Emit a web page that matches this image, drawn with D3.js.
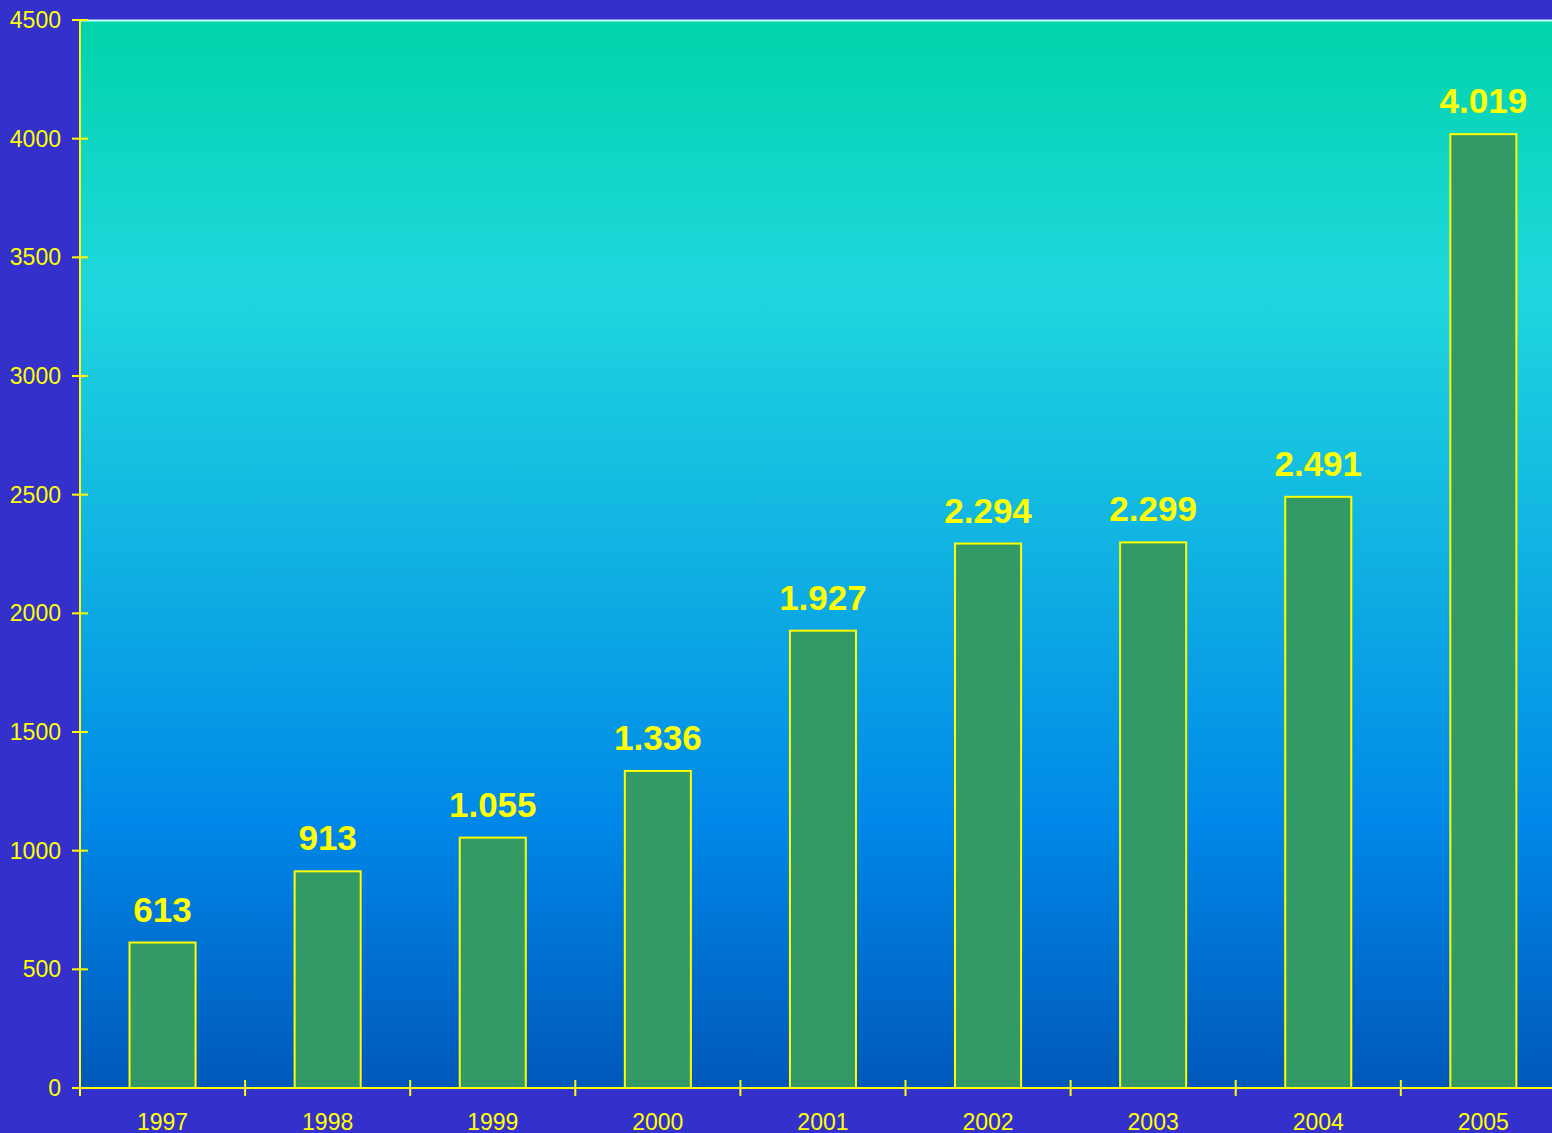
<!DOCTYPE html>
<html><head><meta charset="utf-8">
<script src="https://cdn.jsdelivr.net/npm/d3@7"></script>
<style>html,body{margin:0;padding:0;background:#3330cc;overflow:hidden}svg{display:block}</style>
</head><body>
<script>
const years = ["1997","1998","1999","2000","2001","2002","2003","2004","2005"];
const values = [613, 913, 1055, 1336, 1927, 2294, 2299, 2491, 4019];
const yTicks = [0,500,1000,1500,2000,2500,3000,3500,4000,4500];

const W = 1552, H = 1133;
const m = {left: 80, top: 20, bottom: 45};
const plotW = 165.1 * years.length;
const svg = d3.select("body").append("svg").attr("width", W).attr("height", H);

const x = d3.scaleBand().domain(years).range([m.left, m.left + plotW]).paddingInner(0.6).paddingOuter(0.3);
const xb = d3.scaleBand().domain(years).range([m.left, m.left + plotW]);
const y = d3.scaleLinear().domain([0, 4500]).range([H - m.bottom, m.top]);

const defs = svg.append("defs");
const g = defs.append("linearGradient").attr("id","bg").attr("x1",0).attr("y1",0).attr("x2",0).attr("y2",1);
[[0,"#00d4aa"],[0.25,"#1fd7de"],[0.5,"#10b2e2"],[0.75,"#0088e8"],[1,"#0058ba"]].forEach(([o,c]) =>
  g.append("stop").attr("offset", o).attr("stop-color", c));

svg.append("rect").attr("x", m.left).attr("y", y(4500)).attr("width", W - m.left).attr("height", y(0) - y(4500)).attr("fill","url(#bg)");
svg.append("line").attr("x1", m.left).attr("x2", W).attr("y1", y(4500)+0.5).attr("y2", y(4500)+0.5).attr("stroke","#c8fff8").attr("stroke-width",2);

const fmt = v => d3.format(",")(v).replace(/,/g, ".");

svg.selectAll("rect.bar").data(values).join("rect").attr("class","bar")
  .attr("x", (d,i) => x(years[i])).attr("width", x.bandwidth())
  .attr("y", d => y(d)).attr("height", d => y(0) - y(d))
  .attr("fill","#339966").attr("stroke","#ffff00").attr("stroke-width",2);

svg.selectAll("text.val").data(values).join("text").attr("class","val")
  .attr("x", (d,i) => x(years[i]) + x.bandwidth()/2).attr("y", d => y(d) - 21)
  .attr("text-anchor","middle").attr("fill","#ffff00")
  .style("font", "bold 35px 'Liberation Sans', Arial, sans-serif").text(fmt);

// y axis
const ya = svg.append("g");
ya.append("line").attr("x1", m.left).attr("x2", m.left).attr("y1", y(4500)).attr("y2", y(0)+8).attr("stroke","#ffff00").attr("stroke-width",2);
yTicks.forEach(t => {
  ya.append("line").attr("x1", m.left-8).attr("x2", m.left+8).attr("y1", y(t)).attr("y2", y(t)).attr("stroke","#ffff00").attr("stroke-width",2);
  ya.append("text").attr("x", 61).attr("y", y(t)+8).attr("text-anchor","end").attr("fill","#ffff00")
    .style("font","23px 'Liberation Sans', Arial, sans-serif").text(t);
});

// x axis
const xa = svg.append("g");
xa.append("line").attr("x1", m.left).attr("x2", W).attr("y1", y(0)).attr("y2", y(0)).attr("stroke","#ffff00").attr("stroke-width",2);
years.forEach((yr,i) => {
  if (i > 0) xa.append("line").attr("x1", xb(yr)).attr("x2", xb(yr)).attr("y1", y(0)-8).attr("y2", y(0)+8).attr("stroke","#ffff00").attr("stroke-width",2);
  xa.append("text").attr("x", xb(yr) + xb.bandwidth()/2).attr("y", y(0)+42).attr("text-anchor","middle").attr("fill","#ffff00")
    .style("font","23px 'Liberation Sans', Arial, sans-serif").text(yr);
});
</script>
</body></html>
